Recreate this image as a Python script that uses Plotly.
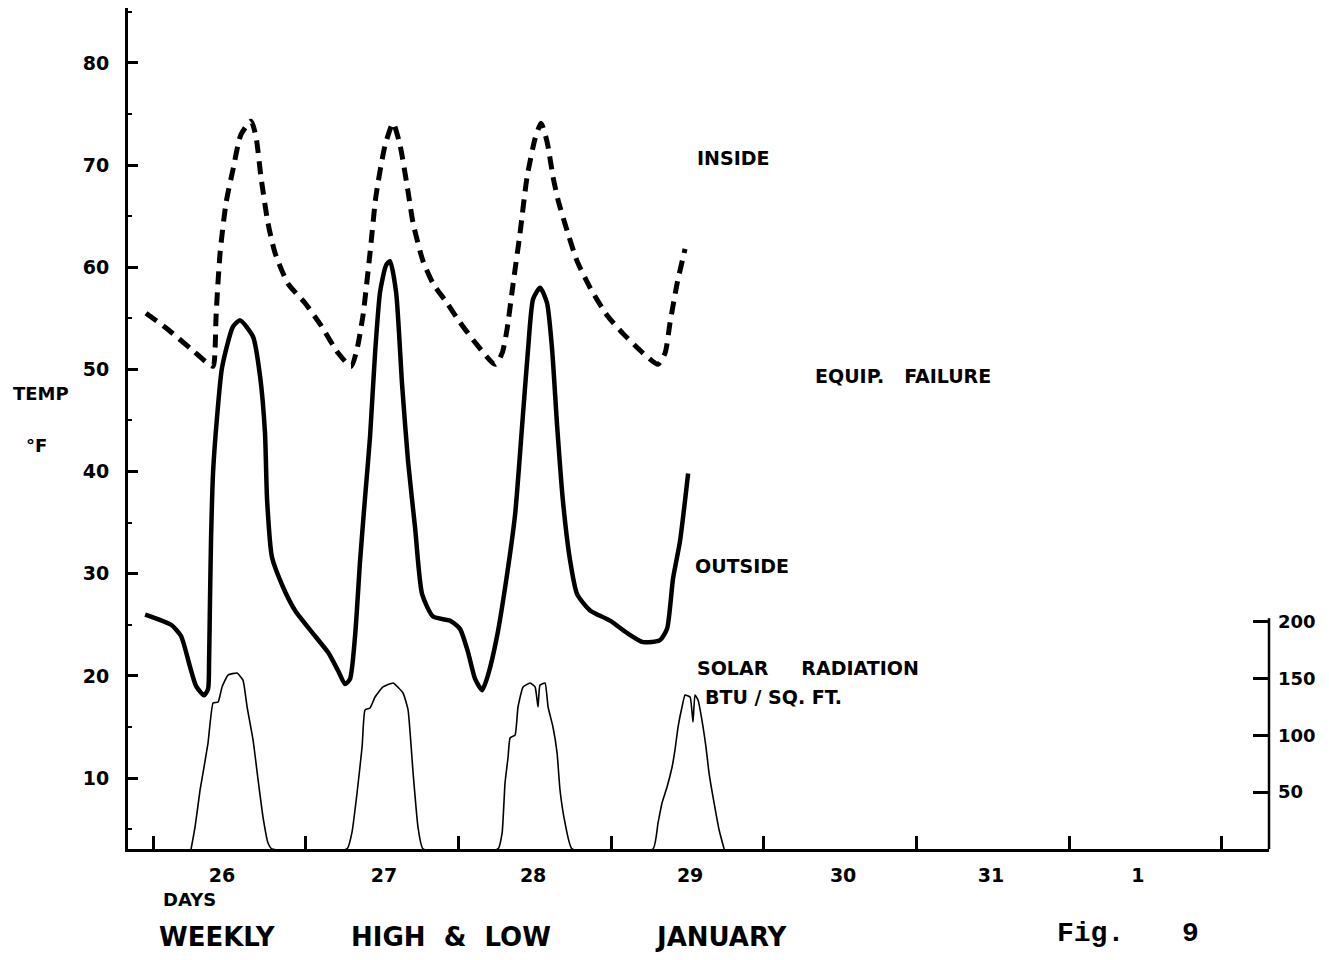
import plotly.graph_objects as go

# time axis: days since midnight starting Jan 26
day_ticks = [0, 1, 2, 3, 4, 5, 6, 7]
day_label_pos = [0.452, 1.513, 2.489, 3.517, 4.519, 5.488, 6.45]
day_labels = ["26", "27", "28", "29", "30", "31", "1"]

# inside temperature (deg F), dashed
inside_t = [-0.046, 0.098, 0.249, 0.393, 0.406, 0.413, 0.439, 0.478, 0.524, 0.576,
            0.642, 0.675, 0.707, 0.753, 0.799, 0.884, 0.995, 1.100, 1.212, 1.297,
            1.336, 1.375, 1.421, 1.460, 1.519, 1.572, 1.618, 1.670, 1.703, 1.768,
            1.834, 1.925, 2.010, 2.122, 2.240, 2.286, 2.318, 2.358, 2.403, 2.449,
            2.502, 2.541, 2.580, 2.620, 2.652, 2.711, 2.777, 2.862, 2.973, 3.078,
            3.209, 3.307, 3.353, 3.386, 3.432, 3.484]
inside_temp = [55.5, 53.9, 52.0, 50.3, 52.0, 55.3, 61.4, 66.3, 69.6, 73.0,
               74.3, 72.7, 68.8, 64.3, 61.4, 58.4, 56.5, 54.3, 51.6, 50.3,
               52.0, 55.3, 61.4, 67.0, 71.9, 74.1, 71.9, 67.4, 64.3, 60.6,
               58.4, 56.5, 54.6, 52.4, 50.5, 51.6, 53.9, 58.4, 63.3, 68.8,
               72.6, 74.1, 72.3, 68.8, 66.6, 63.6, 60.6, 58.0, 55.3, 53.5,
               51.6, 50.5, 51.6, 54.6, 58.4, 61.8]

# outside temperature (deg F), solid
outside_t = [-0.052, 0.118, 0.183, 0.242, 0.282, 0.334, 0.360, 0.367, 0.373, 0.380,
             0.393, 0.419, 0.452, 0.524, 0.570, 0.655, 0.701, 0.733, 0.747, 0.779,
             0.851, 0.930, 1.061, 1.146, 1.212, 1.257, 1.290, 1.323, 1.356, 1.388,
             1.421, 1.454, 1.487, 1.526, 1.552, 1.592, 1.631, 1.670, 1.716, 1.762,
             1.834, 1.945, 2.010, 2.063, 2.109, 2.155, 2.194, 2.253, 2.318, 2.371,
             2.417, 2.456, 2.489, 2.535, 2.580, 2.613, 2.646, 2.685, 2.731, 2.777,
             2.862, 2.993, 3.104, 3.209, 3.320, 3.366, 3.405, 3.451, 3.504]
outside_temp = [26.0, 25.0, 23.9, 20.9, 19.0, 18.1, 18.7, 21.5, 27.4, 33.5,
                39.9, 45.3, 50.2, 54.2, 54.8, 53.2, 49.3, 43.8, 37.2, 31.6,
                28.7, 26.4, 23.9, 22.3, 20.5, 19.2, 19.7, 23.9, 31.3, 37.4,
                43.4, 51.6, 57.6, 60.2, 60.6, 57.5, 48.5, 41.0, 34.5, 28.0,
                25.8, 25.4, 24.6, 22.3, 19.7, 18.6, 20.1, 23.9, 29.9, 35.8,
                44.5, 52.0, 56.9, 58.0, 56.5, 52.0, 44.5, 37.0, 31.3, 28.0,
                26.4, 25.4, 24.2, 23.3, 23.5, 24.6, 29.5, 33.2, 39.8]

# solar radiation (BTU / sq. ft.), right axis
solar_t = [0.249, 0.275, 0.308, 0.327, 0.360, 0.393, 0.426, 0.452, 0.491, 0.550,
           0.589, 0.616, 0.655, 0.688, 0.720, 0.753, 0.779,
           1.270, 1.303, 1.336, 1.369, 1.388, 1.421, 1.454, 1.506, 1.572, 1.637,
           1.670, 1.703, 1.735, 1.768,
           2.259, 2.286, 2.305, 2.325, 2.338, 2.371, 2.390, 2.423, 2.469, 2.502,
           2.521, 2.534, 2.567, 2.587, 2.619, 2.646, 2.665, 2.698, 2.744,
           3.274, 3.307, 3.333, 3.366, 3.399, 3.418, 3.438, 3.464, 3.484, 3.517,
           3.536, 3.549, 3.569, 3.602, 3.621, 3.641, 3.674, 3.707, 3.740]
solar_btu = [0, 19.3, 51.9, 66.8, 93.2, 128.4, 129.3, 142.5, 153.0, 154.8,
             148.6, 124.9, 95.9, 60.7, 28.1, 5.3, 0,
             0, 14.9, 49.3, 89.7, 122.3, 124.0, 133.7, 142.5, 146.0, 137.2,
             122.3, 66.8, 19.3, 0,
             0, 14.0, 58.0, 80.9, 97.6, 100.3, 124.9, 142.5, 146.0, 142.5,
             124.9, 144.2, 146.0, 124.9, 107.3, 84.4, 51.9, 22.9, 0,
             0, 22.9, 40.5, 54.5, 72.1, 87.1, 107.3, 124.9, 135.4, 133.7,
             111.7, 135.4, 131.0, 107.3, 89.7, 66.8, 40.5, 16.7, 0]
solar_ticks = [50, 100, 150, 200]

BOLD = dict(family="DejaVu Sans", color="black", weight="bold")

fig = go.Figure()
fig.add_trace(go.Scatter(x=inside_t, y=inside_temp, mode="lines",
                         line=dict(color="black", width=5, dash="13px,8px",
                                   shape="spline", smoothing=0.6)))
fig.add_trace(go.Scatter(x=outside_t, y=outside_temp, mode="lines",
                         line=dict(color="black", width=4.5,
                                   shape="spline", smoothing=0.6)))
fig.add_trace(go.Scatter(x=solar_t, y=solar_btu, mode="lines", yaxis="y2",
                         line=dict(color="black", width=1.6,
                                   shape="spline", smoothing=0.4)))

# page body adds an 8px offset, so the figure is 8px smaller than the window
fig.update_layout(
    width=1321, height=952,
    margin=dict(l=120, r=60, t=0, b=111),
    paper_bgcolor="white", plot_bgcolor="white",
    showlegend=False,
    xaxis=dict(range=[-0.164, 7.308], showgrid=False, zeroline=False,
               showline=True, linecolor="black", linewidth=2.5,
               tickmode="array", tickvals=day_label_pos, ticktext=day_labels,
               ticks="", ticklabelstandoff=7,
               tickfont=dict(size=19, **BOLD),
               minor=dict(tickmode="array", tickvals=day_ticks, ticks="inside",
                          ticklen=13, tickwidth=2.5, tickcolor="black")),
    yaxis=dict(range=[3.05, 85.38], showgrid=False, zeroline=False,
               showline=True, linecolor="black", linewidth=3,
               tick0=0, dtick=10, ticks="inside", ticklen=10, tickwidth=2.5,
               tickcolor="black", ticklabelstandoff=12,
               tickfont=dict(size=19, **BOLD),
               minor=dict(tick0=0, dtick=5, ticks="inside", ticklen=4,
                          tickwidth=2, tickcolor="black")),
    yaxis2=dict(overlaying="y", side="right", anchor="x", range=[0, 739.7],
                showgrid=False, zeroline=False, showline=False,
                tickmode="array", tickvals=solar_ticks, ticks="inside",
                ticklen=16, tickwidth=2.5, tickcolor="black",
                ticklabelstandoff=8, tickfont=dict(size=18, **BOLD)),
)

# short right-hand axis for the solar scale
fig.add_shape(type="line", xref="paper", yref="y2", x0=1, x1=1, y0=0, y1=203,
              line=dict(color="black", width=2.5))

labels = [
    ("TEMP", -0.0762, 0.5422, "center", 18),
    ("°F", -0.0798, 0.4792, "center", 18),
    ("INSIDE", 0.4969, 0.8216, "left", 19),
    ("EQUIP.   FAILURE", 0.6004, 0.5624, "left", 19),
    ("OUTSIDE", 0.4952, 0.3365, "left", 19),
    ("SOLAR     RADIATION", 0.4969, 0.2152, "left", 19),
    ("BTU / SQ. FT.", 0.5039, 0.1807, "left", 19),
    ("DAYS", 0.0289, -0.0606, "left", 18),
    ("WEEKLY", 0.0254, -0.1046, "left", 26),
    ("HIGH  &  LOW", 0.1937, -0.1046, "left", 26),
    ("JANUARY", 0.4601, -0.1046, "left", 26),
]
for text, x, y, anchor, size in labels:
    fig.add_annotation(text=text, x=x, y=y, xref="paper", yref="paper",
                       xanchor=anchor, yanchor="middle", showarrow=False,
                       font=dict(size=size, **BOLD))

for text, x in [("Fig.", 0.8124), ("9", 0.9220)]:
    fig.add_annotation(text=text, x=x, y=-0.1, xref="paper", yref="paper",
                       xanchor="left", yanchor="middle", showarrow=False,
                       font=dict(family="Liberation Mono", size=28, color="black",
                                 weight="bold"))

fig.write_html("out.html")
